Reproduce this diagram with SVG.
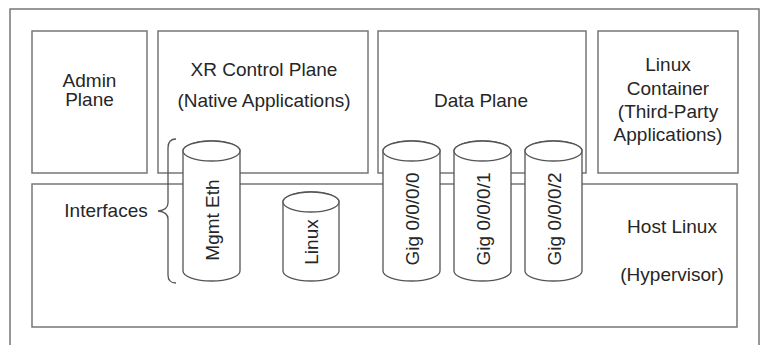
<svg xmlns="http://www.w3.org/2000/svg" width="773" height="345" viewBox="0 0 773 345">
<style>
.box{fill:none;stroke:#777;stroke-width:1.5}
.cyl{fill:#fff;stroke:#555;stroke-width:1.3}
.t{font-family:"Liberation Sans",Arial,sans-serif;font-size:19px;fill:#262626;text-anchor:middle}
.br{fill:none;stroke:#555;stroke-width:1.3}
</style>
<rect width="773" height="345" fill="#fff"/>
<path class="box" d="M10,350 L10,9 L759,9 L759,350"/>
<g id="admin"><rect class="box" x="32" y="31" width="115" height="142"/>
<text class="t" x="89.5" y="87">Admin</text><text class="t" x="89.5" y="106">Plane</text></g>
<g id="xr"><rect class="box" x="158" y="31" width="210" height="142"/>
<text class="t" x="264" y="76">XR Control Plane</text><text class="t" x="264" y="107">(Native Applications)</text></g>
<g id="data"><rect class="box" x="378" y="31" width="208" height="142"/>
<text class="t" x="481" y="107">Data Plane</text></g>
<g id="container"><rect class="box" x="598" y="31" width="140" height="142"/>
<text class="t" x="668" y="71">Linux</text><text class="t" x="668" y="95">Container</text><text class="t" x="668" y="118">(Third-Party</text><text class="t" x="668" y="141">Applications)</text></g>
<g id="host"><rect class="box" x="32" y="184" width="705" height="143"/>
<text class="t" x="672" y="233">Host Linux</text><text class="t" x="672" y="281">(Hypervisor)</text></g>
<g id="connectors"><path class="br" d="M176,139 Q168,139 168,148 L168,203 Q168,210 158,211 Q168,212 168,219 L168,275 Q168,283 176,283"/></g>
<g id="interfaces"><text class="t" x="106" y="217">Interfaces</text></g>
<g id="mgmt"><path class="cyl" d="M183,151 L183,271 A28.5,10 0 0 0 240,271 L240,151 A28.5,10 0 0 0 183,151 Z"/><ellipse class="cyl" cx="211.5" cy="151" rx="28.5" ry="10"/>
<text class="t" transform="translate(218.5,220) rotate(-90)">Mgmt Eth</text></g>
<g id="linux"><path class="cyl" d="M283,202 L283,271 A28,10 0 0 0 339,271 L339,202 A28,10 0 0 0 283,202 Z"/><ellipse class="cyl" cx="311" cy="202" rx="28" ry="10"/>
<text class="t" transform="translate(318,242) rotate(-90)">Linux</text></g>
<g id="gig0"><path class="cyl" d="M383,151 L383,271 A28.5,10 0 0 0 440,271 L440,151 A28.5,10 0 0 0 383,151 Z"/><ellipse class="cyl" cx="411.5" cy="151" rx="28.5" ry="10"/>
<text class="t" transform="translate(418.5,219) rotate(-90)">Gig 0/0/0/0</text></g>
<g id="gig1"><path class="cyl" d="M454,151 L454,271 A28.5,10 0 0 0 511,271 L511,151 A28.5,10 0 0 0 454,151 Z"/><ellipse class="cyl" cx="482.5" cy="151" rx="28.5" ry="10"/>
<text class="t" transform="translate(489.5,219) rotate(-90)">Gig 0/0/0/1</text></g>
<g id="gig2"><path class="cyl" d="M525,151 L525,271 A28.5,10 0 0 0 582,271 L582,151 A28.5,10 0 0 0 525,151 Z"/><ellipse class="cyl" cx="553.5" cy="151" rx="28.5" ry="10"/>
<text class="t" transform="translate(560.5,219) rotate(-90)">Gig 0/0/0/2</text></g>
</svg>
